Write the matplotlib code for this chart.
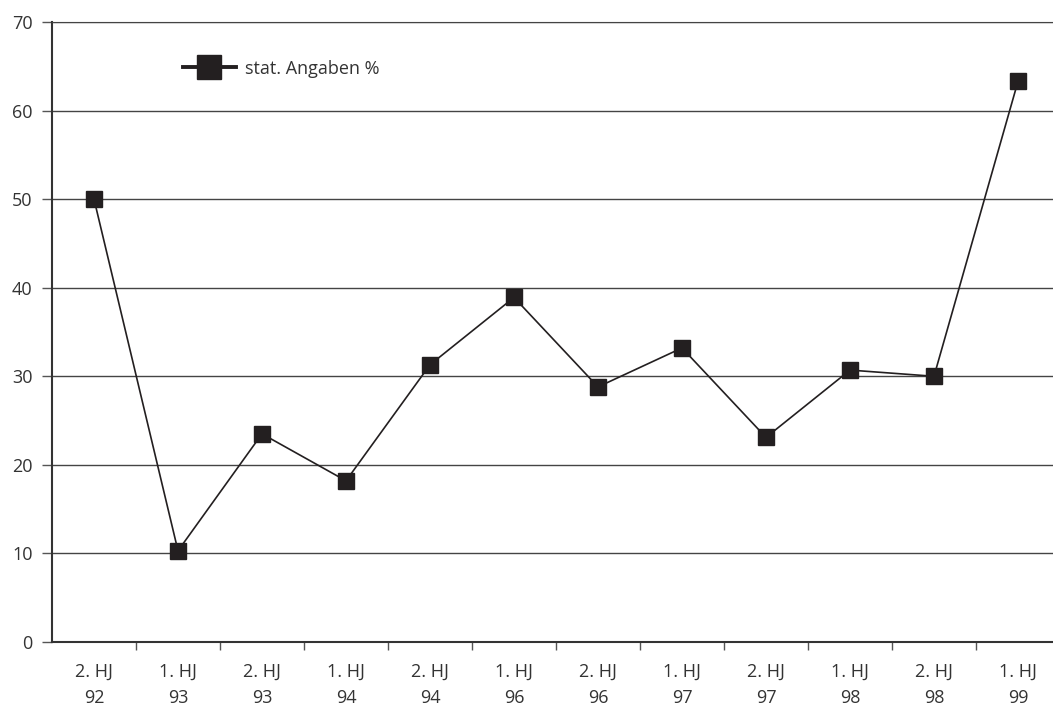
import matplotlib
matplotlib.use("Agg")
import matplotlib.pyplot as plt
from matplotlib.ticker import FixedLocator

categories = ["2. HJ\n92", "1. HJ\n93", "2. HJ\n93", "1. HJ\n94", "2. HJ\n94", "1. HJ\n96",
              "2. HJ\n96", "1. HJ\n97", "2. HJ\n97", "1. HJ\n98", "2. HJ\n98", "1. HJ\n99"]
values = [50.0, 10.3, 23.5, 18.2, 31.3, 38.9, 28.8, 33.2, 23.1, 30.7, 30.0, 63.3]
series_name = "stat. Angaben %"
yticks = [0, 10, 20, 30, 40, 50, 60, 70]

plt.rcParams['font.family'] = ['Open Sans', 'DejaVu Sans']
dark = "#231f20"
txt = "#333333"

fig = plt.figure(figsize=(10.53, 7.09), dpi=100)
W, H = 1053, 709
ax = fig.add_axes([52 / W, 67 / H, 1008 / W, 620 / H])

x = list(range(len(values)))
line, = ax.plot(x, values, color=dark, lw=1.2, marker='s', markersize=12,
                markerfacecolor=dark, markeredgecolor=dark, label=series_name, zorder=3)

ax.set_xlim(-0.5, len(values) - 0.5)
ax.set_ylim(0, 70)
ax.set_yticks(yticks)
ax.set_yticklabels([str(t) for t in yticks], fontsize=13, color=txt)
ax.set_xticks(x)
ax.set_xticklabels(categories, fontsize=13, color=txt, linespacing=1.6)
ax.tick_params(axis='x', which='major', length=0, pad=15)
ax.xaxis.set_minor_locator(FixedLocator([i + 0.5 for i in range(len(values) - 1)]))
ax.tick_params(axis='x', which='minor', length=6, color="#555555", width=1)
ax.tick_params(axis='y', length=7, color="#555555", width=1, pad=7)

ax.grid(axis='y', color="#444444", lw=1)
ax.set_axisbelow(True)
ax.spines['right'].set_visible(False)
ax.spines['top'].set_color("#444444")
ax.spines['left'].set_color("#333333")
ax.spines['left'].set_linewidth(1.5)
ax.spines['bottom'].set_color("#333333")
ax.spines['bottom'].set_linewidth(1.5)

leg = ax.legend(loc='center left', bbox_to_anchor=(0.123, 0.925), frameon=False, fontsize=13,
                handlelength=2.9, handletextpad=0.55, borderaxespad=0, markerscale=1.45)
for h in leg.legend_handles:
    h.set_linewidth(2.8)
for t in leg.get_texts():
    t.set_color(txt)

fig.savefig("out.png", dpi=100)
